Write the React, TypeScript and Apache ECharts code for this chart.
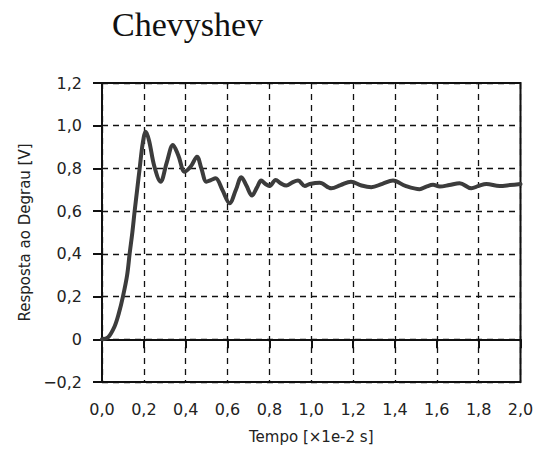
import React, { useEffect, useRef } from "react";
import * as echarts from "echarts";

// Step response of a Chebyshev filter (time in units of 1e-2 s, output in V)
const timeValues: number[] = [
  0, 0.03, 0.06, 0.08, 0.1, 0.12, 0.132, 0.145, 0.156, 0.168, 0.18, 0.195, 0.209,
  0.225, 0.25, 0.28, 0.31, 0.339, 0.365, 0.395, 0.425, 0.454, 0.475, 0.499, 0.52,
  0.543, 0.575, 0.61, 0.64, 0.666, 0.69, 0.717, 0.74, 0.761, 0.78, 0.801, 0.83,
  0.855, 0.881, 0.91, 0.937, 0.969, 0.993, 1.04, 1.096, 1.14, 1.19, 1.24, 1.287,
  1.34, 1.391, 1.45, 1.518, 1.55, 1.582, 1.614, 1.66, 1.709, 1.765, 1.8, 1.837,
  1.9, 1.95, 2.0,
];
const responseValues: number[] = [
  0, 0.01, 0.06, 0.12, 0.2, 0.3, 0.4, 0.5, 0.6, 0.7, 0.8, 0.92, 0.972,
  0.93, 0.81, 0.738, 0.83, 0.91, 0.86, 0.785, 0.81, 0.855, 0.8, 0.738, 0.745,
  0.754, 0.7, 0.637, 0.7, 0.759, 0.72, 0.673, 0.71, 0.743, 0.728, 0.718, 0.746,
  0.73, 0.72, 0.735, 0.743, 0.718, 0.727, 0.733, 0.707, 0.722, 0.738, 0.72, 0.712,
  0.728, 0.743, 0.718, 0.703, 0.715, 0.723, 0.715, 0.722, 0.731, 0.707, 0.718, 0.727,
  0.718, 0.722, 0.727,
];

const titleText = "Chevyshev";
const xAxisName = "Tempo [\u00d71e-2 s]";
const yAxisName = "Resposta ao Degrau [V]";

const fmt = (v: number, keepZeroDecimal: boolean) => {
  if (!keepZeroDecimal && Math.abs(v) < 1e-9) return "0";
  return v.toFixed(1).replace(".", ",").replace("-", "\u2212");
};

export default function App() {
  const ref = useRef<HTMLDivElement>(null);

  useEffect(() => {
    if (!ref.current) return;
    const chart = echarts.init(ref.current, null, { renderer: "svg" });
    const labelFont = "DejaVu Sans";
    const gridLine = { show: true, lineStyle: { color: "#111", width: 1.3, type: [6, 5] as number[] } };

    chart.setOption({
      animation: false,
      backgroundColor: "#fff",
      title: {
        text: titleText,
        left: 112,
        top: 7,
        padding: 0,
        textStyle: { fontFamily: "Liberation Serif", fontSize: 34, fontWeight: "normal", color: "#111" },
      },
      grid: {
        left: 102,
        right: 16.5,
        top: 83,
        bottom: 70,
        show: true,
        borderColor: "#111",
        borderWidth: 2,
      },
      xAxis: {
        type: "value",
        min: 0,
        max: 2,
        interval: 0.2,
        name: xAxisName,
        nameLocation: "middle",
        nameGap: 47,
        nameTextStyle: { fontFamily: labelFont, fontSize: 15, color: "#222" },
        axisLine: { show: true, lineStyle: { color: "#111", width: 2 } },
        axisTick: { show: true, inside: false, length: 9, lineStyle: { color: "#111", width: 2 } },
        axisLabel: {
          margin: 19,
          fontFamily: labelFont,
          fontSize: 16,
          color: "#222",
          formatter: (v: number) => fmt(v, true),
        },
        splitLine: gridLine,
      },
      yAxis: {
        type: "value",
        min: -0.2,
        max: 1.2,
        interval: 0.2,
        name: yAxisName,
        nameLocation: "middle",
        nameRotate: 90,
        nameGap: 66,
        nameTextStyle: { fontFamily: labelFont, fontSize: 15, color: "#222" },
        axisLine: { show: true, lineStyle: { color: "#111", width: 2 } },
        axisTick: { show: true, inside: false, length: 9, lineStyle: { color: "#111", width: 2 } },
        axisLabel: {
          margin: 20,
          fontFamily: labelFont,
          fontSize: 16,
          color: "#222",
          formatter: (v: number) => fmt(v, false),
        },
        splitLine: gridLine,
      },
      series: [
        {
          type: "line",
          data: timeValues.map((t, i) => [t, responseValues[i]]),
          smooth: 0.35,
          showSymbol: false,
          lineStyle: { color: "#3c3c3c", width: 4, cap: "round", join: "round" },
        },
      ],
    });

    return () => chart.dispose();
  }, []);

  return (
    <div
      ref={ref}
      style={{ position: "fixed", left: 0, top: 0, width: 537, height: 452 }}
    />
  );
}
